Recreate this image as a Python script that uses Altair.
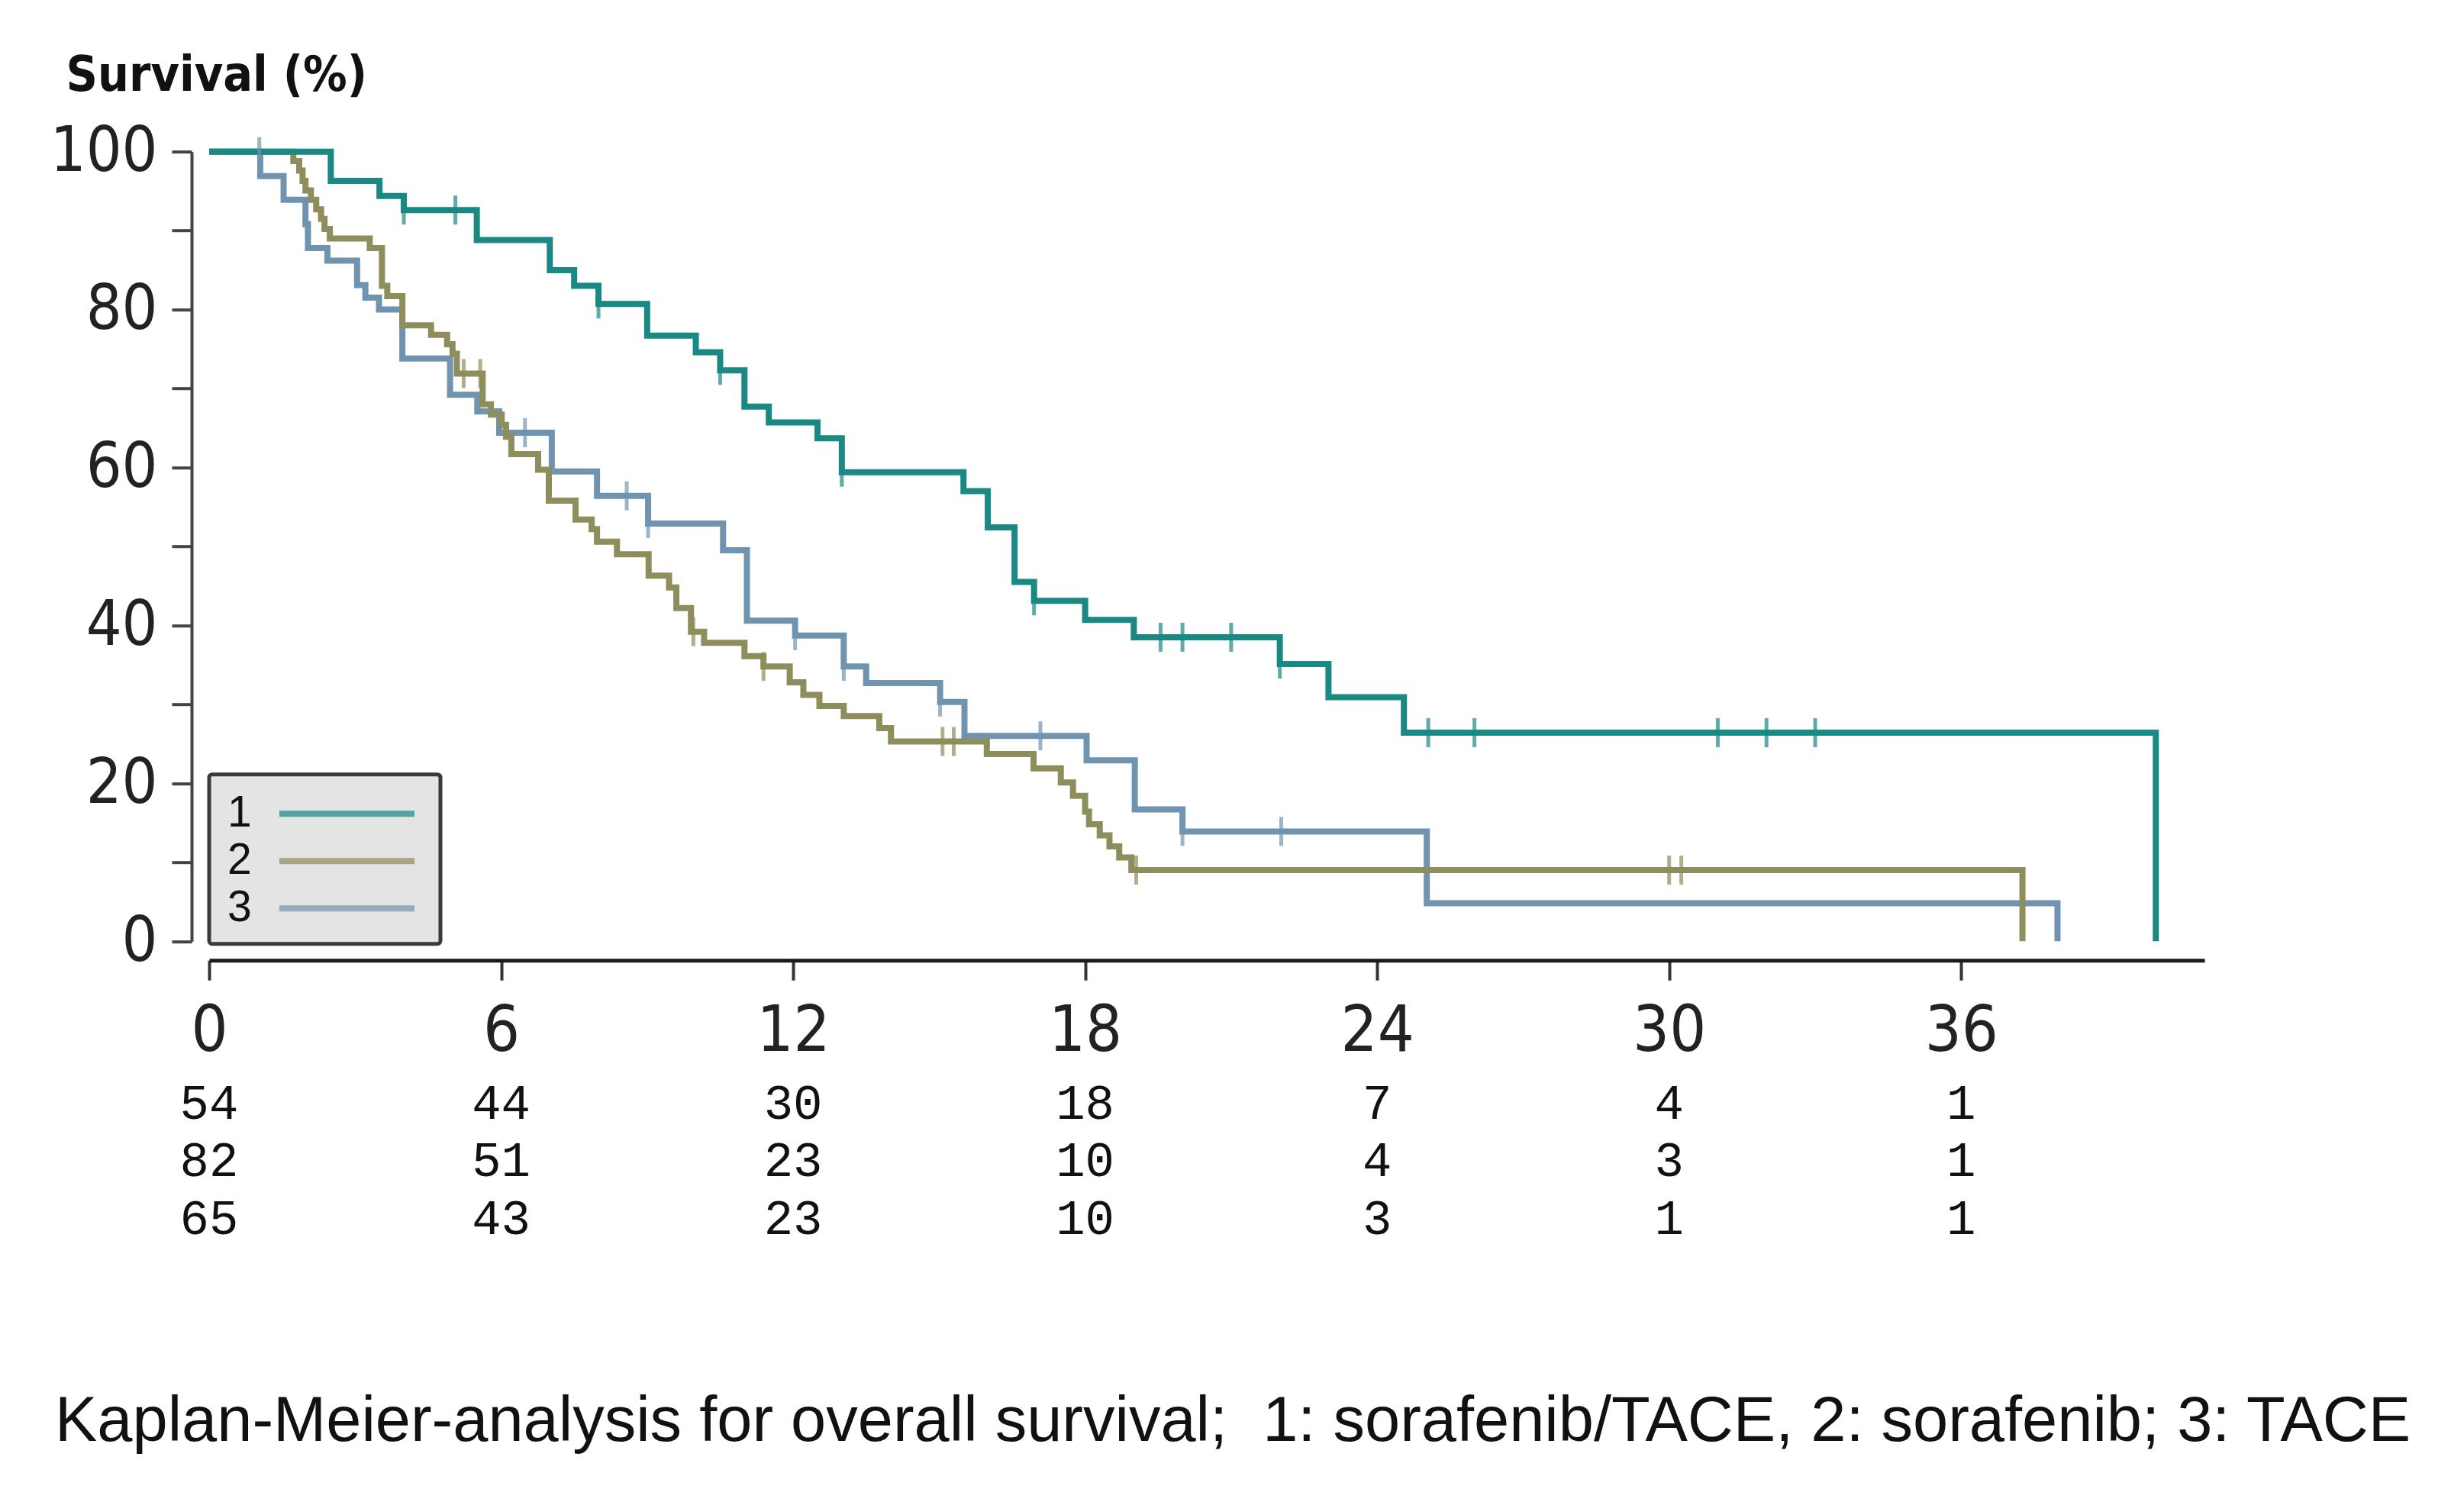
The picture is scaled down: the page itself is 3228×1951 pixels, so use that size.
import altair as alt
import pandas as pd

# ---------------- data ----------------
groups = ["1", "2", "3"]
colors = ["#1a8883", "#8e8d5c", "#7094b0"]

# group 1: sorafenib/TACE (teal)
t1 = [0, 2.5, 3.5, 4.0, 5.5, 7.0, 7.5, 8.0, 9.0, 10.0, 10.5, 11.0, 11.5, 12.5, 13.0,
      15.5, 16.0, 16.55, 16.95, 18.0, 19.0, 22.0, 23.0, 24.55, 40.0]
s1 = [100, 96.3, 94.4, 92.6, 88.8, 85.0, 83.0, 80.7, 76.7, 74.6, 72.3, 67.7, 65.7, 63.7, 59.4,
      57.0, 52.4, 45.5, 43.1, 40.7, 38.5, 35.1, 30.9, 26.4, 0]
c1 = [4.0, 5.06, 8.0, 10.5, 13.0, 16.95, 19.55, 20.0, 21.0, 22.0, 25.05, 26.0, 31.0, 32.0, 33.0]

# group 2: sorafenib (olive)
t2 = [0, 1.73, 1.85, 1.92, 1.98, 2.09, 2.2, 2.3, 2.37, 2.48, 3.30, 3.55, 3.66, 3.97, 4.56,
      4.89, 5.0, 5.09, 5.62, 5.79, 6.01, 6.1, 6.21, 6.76, 6.98, 7.53, 7.86, 7.97, 8.38, 9.03,
      9.45, 9.6, 9.9, 10.17, 11.0, 11.39, 11.93, 12.21, 12.54, 13.04, 13.77, 14.01, 15.98,
      16.94, 17.5, 17.75, 18.0, 18.08, 18.3, 18.5, 18.7, 18.95, 37.26]
s2 = [100, 98.8, 97.6, 96.3, 95.1, 93.9, 92.7, 91.5, 90.2, 89.0, 87.8, 83.0, 81.7, 78.0, 76.8,
      75.6, 74.4, 71.9, 68.0, 66.7, 65.4, 63.9, 61.7, 59.7, 55.8, 53.4, 52.2, 50.6, 49.0, 46.3,
      44.8, 42.2, 39.2, 37.8, 36.1, 34.8, 32.8, 31.2, 29.8, 28.5, 27.0, 25.3, 23.7,
      21.9, 20.1, 18.4, 16.4, 14.8, 13.4, 12.0, 10.6, 9.0, 0]
c2 = [5.23, 5.57, 9.95, 11.39, 15.07, 15.3, 19.05, 30.0, 30.25]

# group 3: TACE (blue)
t3 = [0, 1.05, 1.53, 1.98, 2.03, 2.43, 3.04, 3.21, 3.49, 3.97, 4.95, 5.51, 5.96, 7.04, 7.97,
      9.02, 10.56, 11.05, 12.04, 13.04, 13.5, 15.02, 15.52, 18.03, 19.02, 20.0, 25.02, 37.98]
s3 = [100, 96.9, 93.9, 90.8, 87.8, 86.2, 83.1, 81.5, 80.0, 73.8, 69.2, 67.1, 64.4, 59.5, 56.4,
      52.9, 49.5, 40.6, 38.7, 34.8, 32.7, 30.3, 26.0, 22.9, 16.7, 13.9, 4.8, 0]
c3 = [1.03, 6.49, 8.58, 9.02, 12.04, 13.04, 15.02, 17.08, 20.0, 22.03]

# number at risk
risk_times = [0, 6, 12, 18, 24, 30, 36]
risk1 = [54, 44, 30, 18, 7, 4, 1]
risk2 = [82, 51, 23, 10, 4, 3, 1]
risk3 = [65, 43, 23, 10, 3, 1, 1]

caption = "Kaplan-Meier-analysis for overall survival;\u00a0 1: sorafenib/TACE, 2: sorafenib; 3: TACE"

# ---------------- tables ----------------
series = {"1": (t1, s1, c1), "2": (t2, s2, c2), "3": (t3, s3, c3)}


def level_at(ts, ss, c):
    v = ss[0]
    for t, s in zip(ts, ss):
        if t <= c:
            v = s
    return v


curve_rows, cens_rows = [], []
for g, (ts, ss, cs) in series.items():
    for t, s in zip(ts, ss):
        curve_rows.append({"group": g, "t": t, "s": s})
    for c in cs:
        cens_rows.append({"group": g, "t": c, "s": level_at(ts, ss, c)})
curves = pd.DataFrame(curve_rows)
cens = pd.DataFrame(cens_rows)

risk_rows = []
for r, vals in enumerate([risk1, risk2, risk3], start=1):
    for t, n in zip(risk_times, vals):
        risk_rows.append({"t": t, "row": r, "n": str(n)})
risk = pd.DataFrame(risk_rows)

# ---------------- styling ----------------
narrow = "Liberation Sans Narrow, Arial Narrow, DejaVu Sans Condensed, sans-serif"
W, H = 2614, 1034.5

xscale = alt.Scale(domain=[0, 41], nice=False, zero=False)
yscale = alt.Scale(domain=[0, 100], nice=False)
cscale = alt.Scale(domain=groups, range=colors)

xaxis = alt.Axis(values=risk_times, title=None, offset=25, tickSize=26, tickWidth=4,
                 tickColor="#333333", domainColor="#1a1a1a", domainWidth=5,
                 labelFont=narrow, labelFontSize=84, labelColor="#222222",
                 labelPadding=26, labelFlush=False, grid=False)
yaxis = alt.Axis(values=list(range(0, 101, 10)),
                 labelExpr="datum.value % 20 == 0 ? datum.label : ''",
                 title="Survival (%)", titleAngle=0, titleX=-165, titleY=-80,
                 titleAlign="left", titleBaseline="alphabetic", titleFont=narrow,
                 titleFontSize=64, titleFontWeight="bold", titleColor="#111111",
                 labelFont=narrow, labelFontSize=82, labelColor="#222222",
                 labelPadding=19, labelFlush=False, labelOverlap=False,
                 tickSize=26, tickWidth=4, tickColor="#444444",
                 domainColor="#444444", domainWidth=4, offset=23, grid=False)

leg = alt.Legend(title=None, orient="none", legendX=0, legendY=816,
                 symbolType="M-3,0H3", symbolSize=3481, symbolStrokeWidth=8,
                 rowPadding=0, padding=18,
                 symbolOffset=129, labelOffset={"expr": "-190"}, labelAlign="left",
                 labelFont="Liberation Sans", labelFontSize=57, labelColor="#111111",
                 fillColor="#e4e4e4", strokeColor="#3a3a3a", cornerRadius=4)

base = alt.Chart(curves)


def line_layer(g):
    return base.transform_filter(alt.datum.group == g).mark_line(
        interpolate="step-after", strokeWidth=8, strokeJoin="miter", strokeCap="butt"
    ).encode(
        x=alt.X("t:Q", scale=xscale, axis=xaxis),
        y=alt.Y("s:Q", scale=yscale, axis=yaxis),
        color=alt.Color("group:N", scale=cscale, legend=leg),
    )


ticks = alt.Chart(cens).mark_tick(orient="vertical", size=38, thickness=5).encode(
    x=alt.X("t:Q", scale=xscale, axis=xaxis),
    y=alt.Y("s:Q", scale=yscale, axis=yaxis),
    color=alt.Color("group:N", scale=cscale, legend=leg),
)

plot = alt.layer(line_layer("3"), line_layer("2"), line_layer("1"), ticks)

risk_text = alt.Chart(risk).mark_text(font="Liberation Mono", fontSize=64, color="#111111",
                                      align="center", baseline="middle").encode(
    x=alt.X("t:Q", scale=xscale, axis=xaxis),
    y=alt.Y("row:Q", scale=alt.Scale(domain=[1, 3], range=[1248, 1399]), axis=None),
    text="n:N",
)

chart = alt.layer(plot, risk_text).resolve_scale(y="independent").properties(
    width=W, height=H,
    background="white",
    autosize=alt.AutoSizeParams(type="none"),
    padding={"left": 266, "top": 190.7, "right": 332, "bottom": 709.8},
    title=alt.TitleParams(text=caption, orient="bottom", anchor="start", frame="group",
                          font="Liberation Sans", fontSize=83, fontWeight="normal",
                          color="#111111", offset=192, dx=-202),
).configure_view(strokeWidth=0, stroke="transparent").configure_legend(strokeWidth=5)

chart.save("out.html", embed_options={"renderer": "svg", "actions": False})
